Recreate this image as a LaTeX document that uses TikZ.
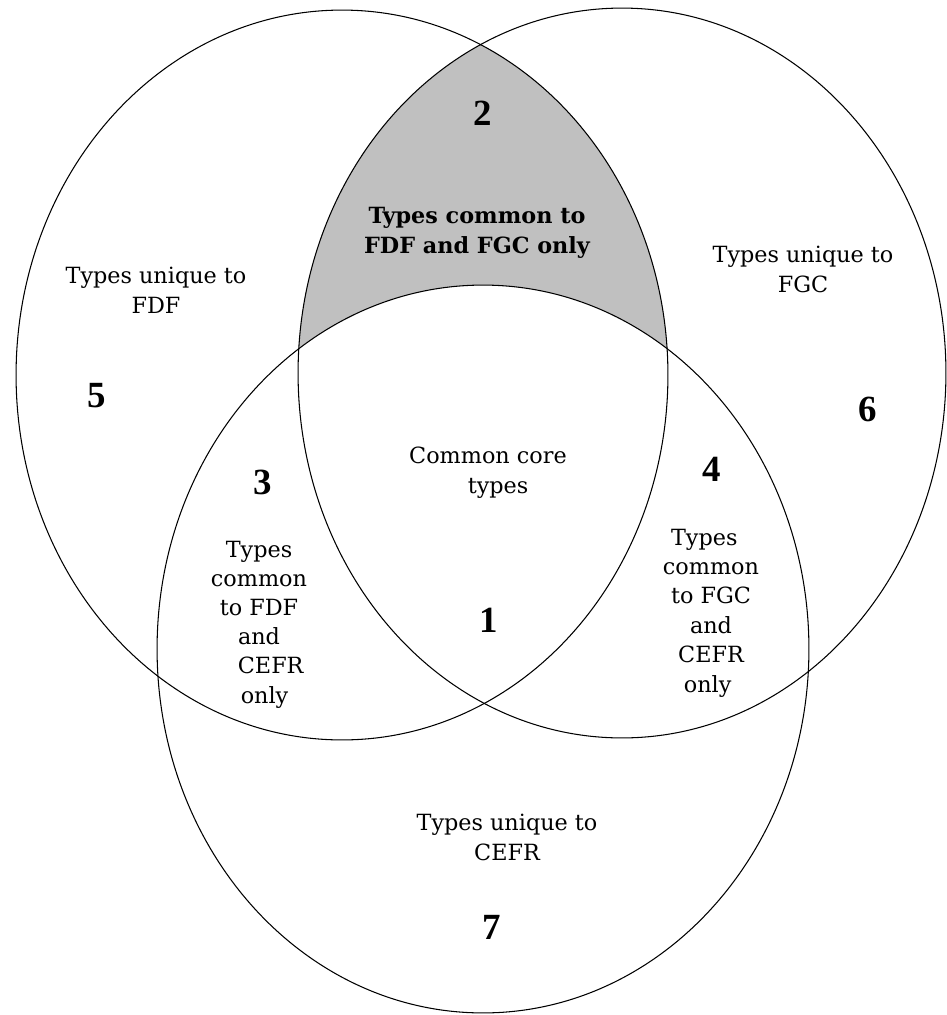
\documentclass[tikz,border=0pt]{standalone}
\usepackage{fontspec}
\setmainfont{DejaVu Serif}
\newfontfamily\numfont{Liberation Serif}
\definecolor{lensgray}{RGB}{192,192,192}
\begin{document}
\begin{tikzpicture}[x=0.02cm,y=-0.02cm,line width=0.6pt,
  lbl/.style={align=center,inner sep=0pt,anchor=base,font={\fontsize{12.7}{17}\selectfont}},
  boldlbl/.style={lbl,font={\fontsize{12.7}{17}\selectfont\bfseries}},
  numlbl/.style={inner sep=0pt,anchor=center,font={\numfont\bfseries\fontsize{21}{21}\selectfont}}]
\useasboundingbox (0,0) rectangle (947,1015);
\fill[white] (0,0) rectangle (947,1015);
% shaded region: FDF and FGC only
\begin{scope}
  \clip (342,375) ellipse [x radius=6.52cm, y radius=7.3cm];
  \clip (622,373) ellipse [x radius=6.48cm, y radius=7.3cm];
  \fill[lensgray] (0,0) rectangle (947,1015);
  \fill[white] (483,649) ellipse [x radius=6.52cm, y radius=7.28cm];
\end{scope}
% the three sets
\draw (342,375) ellipse [x radius=6.52cm, y radius=7.3cm];
\draw (622,373) ellipse [x radius=6.48cm, y radius=7.3cm];
\draw (483,649) ellipse [x radius=6.52cm, y radius=7.28cm];
% numbers
\node[numlbl] (n1) at (489,620) {1};
\node[numlbl] (n2) at (483,113) {2};
\node[numlbl] (n3) at (263,482) {3};
\node[numlbl] (n4) at (712,469) {4};
\node[numlbl] (n5) at (97,396) {5};
\node[numlbl] (n6) at (868,409) {6};
\node[numlbl] (n7) at (492,927) {7};
% labels (anchor = baseline of the last line)
\node[boldlbl] (fdffgc) at (477,253) {Types common to\\FDF and FGC only};
\node[lbl] (fdf) at (156,313) {Types unique to\\FDF};
\node[lbl] (fgc) at (803,292) {Types unique to\\FGC};
\node[lbl] (cefr) at (507,860) {Types unique to\\CEFR};
\node[lbl] (core) at (488,493) {Common core\\\hspace*{0.9em}types};
\node[lbl,font={\fontsize{12.7}{16.6}\selectfont}] (fdfcefr) at (259,703)
  {Types\\common\\to FDF\\and\\\hspace*{1.05em}CEFR\\\hspace*{0.5em}only};
\node[lbl,font={\fontsize{12.7}{16.7}\selectfont}] (fgccefr) at (711,692)
  {Types\hspace*{0.6em}\\common\\to FGC\\and\\CEFR\hspace*{0.5em}\\only\hspace*{0.3em}};
\end{tikzpicture}
\end{document}
